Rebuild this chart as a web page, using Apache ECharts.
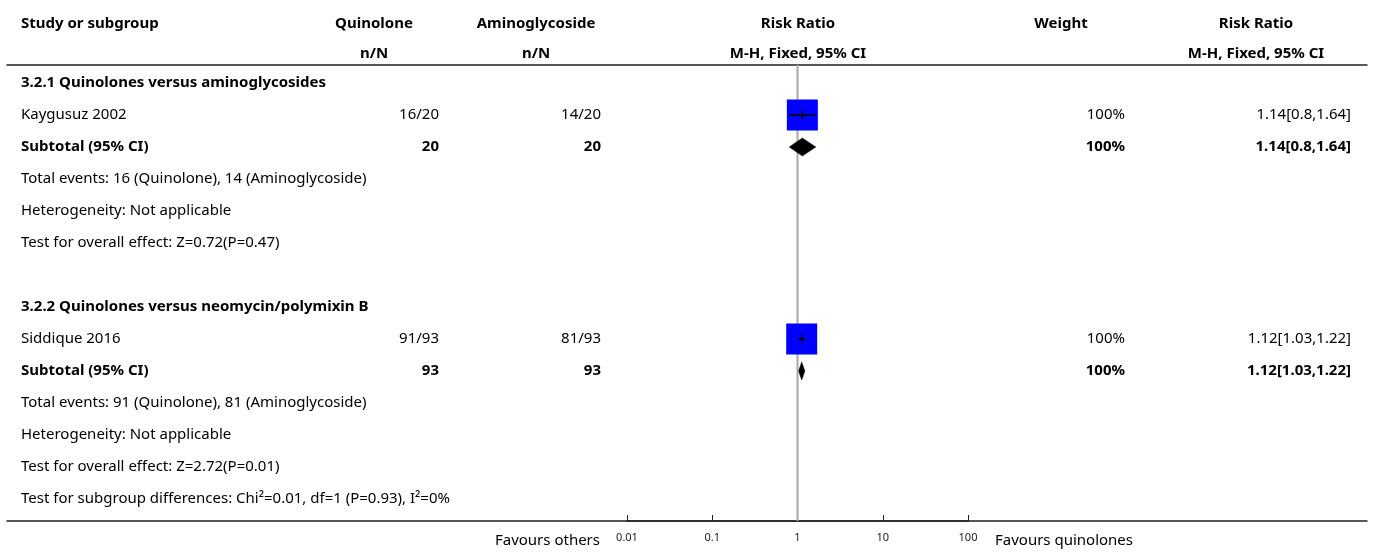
<!DOCTYPE html>
<html><head><meta charset="utf-8">
<script src="https://cdn.jsdelivr.net/npm/echarts@6/dist/echarts.min.js"></script>
<style>html,body{margin:0;padding:0;background:#fff}#c{width:1375px;height:552px}</style>
</head><body><div id="c"></div>
<script>
// ---------- data ----------
const headerTop = ['Study or subgroup', 'Quinolone', 'Aminoglycoside', 'Risk Ratio', 'Weight', 'Risk Ratio'];
const headerSub = ['', 'n/N', 'n/N', 'M-H, Fixed, 95% CI', '', 'M-H, Fixed, 95% CI'];
const rowLabels = [
  '3.2.1 Quinolones versus aminoglycosides',
  'Kaygusuz 2002',
  'Subtotal (95% CI)',
  'Total events: 16 (Quinolone), 14 (Aminoglycoside)',
  'Heterogeneity: Not applicable',
  'Test for overall effect: Z=0.72(P=0.47)',
  '',
  '3.2.2 Quinolones versus neomycin/polymixin B',
  'Siddique 2016',
  'Subtotal (95% CI)',
  'Total events: 91 (Quinolone), 81 (Aminoglycoside)',
  'Heterogeneity: Not applicable',
  'Test for overall effect: Z=2.72(P=0.01)',
  'Test for subgroup differences: Chi\u00b2=0.01, df=1 (P=0.93), I\u00b2=0%'
];
const rowKinds = ['group', 'study', 'subtotal', 'note', 'note', 'note', 'blank',
                  'group', 'study', 'subtotal', 'note', 'note', 'note', 'note'];
const quinolone      = ['', '16/20', '20', '', '', '', '', '', '91/93', '93', '', '', '', ''];
const aminoglycoside = ['', '14/20', '20', '', '', '', '', '', '81/93', '93', '', '', '', ''];
const weightText     = ['', '100%', '100%', '', '', '', '', '', '100%', '100%', '', '', '', ''];
const rrText         = ['', '1.14[0.8,1.64]', '1.14[0.8,1.64]', '', '', '', '', '',
                        '1.12[1.03,1.22]', '1.12[1.03,1.22]', '', '', '', ''];
const rrPoint  = [null, 1.14, 1.14, null, null, null, null, null, 1.12, 1.12, null, null, null, null];
const rrLow    = [null, 0.8, 0.8, null, null, null, null, null, 1.03, 1.03, null, null, null, null];
const rrHigh   = [null, 1.64, 1.64, null, null, null, null, null, 1.22, 1.22, null, null, null, null];
const weights  = [null, 100, 100, null, null, null, null, null, 100, 100, null, null, null, null];
const tickLabels = ['0.01', '0.1', '1', '10', '100'];
const favours = ['Favours others', 'Favours quinolones'];

// ---------- layout ----------
const L = {
  top: 65, bottom: 31, plotLeft: 627, plotRight: 1375 - 968,
  tableLeft: 7, tableRight: 1375 - 1367,
  rowMin: -0.5625, rowMax: 13.6875,
  colLabel: 21, colQuin: 439, colAmino: 601, colWeight: 1125, colRR: 1351,
  headQuin: 374, headAmino: 536, headForest: 798, headWeight: 1061, headRR: 1256,
  headRow1: -1.86, headRow2: -0.92, favRow: 14.3,
  favLeftX: 600, favRightX: 995,
  boxSize: 31, diamondHalfH: 9, tickHalf: 4,
  font: '"Noto Sans"', size: 15
};

const textItems = [];
const hdrX = [L.colLabel, L.headQuin, L.headAmino, L.headForest, L.headWeight, L.headRR];
const hdrAlign = ['left', 'center', 'center', 'center', 'center', 'center'];
headerTop.forEach((t, k) => { if (t) textItems.push({x: hdrX[k], y: L.headRow1, text: t, align: hdrAlign[k], bold: true}); });
headerSub.forEach((t, k) => { if (t) textItems.push({x: hdrX[k], y: L.headRow2, text: t, align: hdrAlign[k], bold: true}); });
rowLabels.forEach((t, i) => {
  const bold = rowKinds[i] === 'group' || rowKinds[i] === 'subtotal';
  const numBold = rowKinds[i] === 'subtotal';
  if (t) textItems.push({x: L.colLabel, y: i, text: t, align: 'left', bold: bold});
  if (quinolone[i]) textItems.push({x: L.colQuin, y: i, text: quinolone[i], align: 'right', bold: numBold});
  if (aminoglycoside[i]) textItems.push({x: L.colAmino, y: i, text: aminoglycoside[i], align: 'right', bold: numBold});
  if (weightText[i]) textItems.push({x: L.colWeight, y: i, text: weightText[i], align: 'right', bold: numBold});
  if (rrText[i]) textItems.push({x: L.colRR, y: i, text: rrText[i], align: 'right', bold: numBold});
});
textItems.push({x: L.favLeftX, y: L.favRow, text: favours[0], align: 'right', bold: false});
textItems.push({x: L.favRightX, y: L.favRow, text: favours[1], align: 'left', bold: false});

const forestRows = [];
rowKinds.forEach((k, i) => { if (rrPoint[i] != null) forestRows.push(i); });

const chart = echarts.init(document.getElementById('c'), null, {renderer: 'canvas'});
const lineColor = '#222';
chart.setOption({
  animation: false,
  backgroundColor: '#fff',
  grid: [
    {left: L.plotLeft, right: L.plotRight, top: L.top, bottom: L.bottom, containLabel: false},
    {left: L.tableLeft, right: L.tableRight, top: L.top, bottom: L.bottom, containLabel: false}
  ],
  xAxis: [
    {
      gridIndex: 0, type: 'log', logBase: 10, min: 0.01, max: 100, splitNumber: 4,
      axisLine: {show: true, onZero: false, lineStyle: {color: lineColor, width: 1.5}},
      axisTick: {show: true, inside: true, length: 6, lineStyle: {color: lineColor, width: 1}},
      axisLabel: {
        show: true, margin: 11, fontSize: 11, fontFamily: 'Noto Sans', color: '#222',
        formatter: v => { const m = tickLabels.find(t => Math.abs(Math.log10(+t) - Math.log10(v)) < 1e-6); return m || ''; }
      },
      splitLine: {show: false}
    },
    {
      gridIndex: 1, type: 'value', min: 7, max: 1367, position: 'top',
      axisLine: {show: true, onZero: false, lineStyle: {color: lineColor, width: 1.5}},
      axisTick: {show: false}, axisLabel: {show: false}, splitLine: {show: false}
    },
    {
      gridIndex: 1, type: 'value', min: 7, max: 1367, position: 'bottom',
      axisLine: {show: true, onZero: false, lineStyle: {color: lineColor, width: 1.5}},
      axisTick: {show: false}, axisLabel: {show: false}, splitLine: {show: false}
    }
  ],
  yAxis: [
    {gridIndex: 0, type: 'value', inverse: true, min: L.rowMin, max: L.rowMax, show: false},
    {gridIndex: 1, type: 'value', inverse: true, min: L.rowMin, max: L.rowMax, show: false}
  ],
  series: [
    {
      // null line at RR = 1
      type: 'custom', xAxisIndex: 0, yAxisIndex: 0, z: 1, silent: true, clip: false,
      data: [[1]],
      renderItem: (params, api) => {
        const a = api.coord([api.value(0), L.rowMin]);
        const b = api.coord([api.value(0), L.rowMax]);
        return {type: 'line', shape: {x1: a[0], y1: a[1], x2: b[0], y2: b[1]},
                style: {stroke: '#a8a8a8', lineWidth: 2}};
      }
    },
    {
      // study boxes and subtotal diamonds
      type: 'custom', xAxisIndex: 0, yAxisIndex: 0, z: 3, silent: true, clip: false,
      data: forestRows.map(i => [rrPoint[i], i, rrLow[i], rrHigh[i], weights[i]]),
      renderItem: (params, api) => {
        const row = forestRows[params.dataIndex];
        const y = api.value(1);
        const p = api.coord([api.value(0), y]);
        const lo = api.coord([api.value(2), y]);
        const hi = api.coord([api.value(3), y]);
        if (rowKinds[row] === 'study') {
          const s = L.boxSize * Math.sqrt(api.value(4) / 100);
          return {type: 'group', children: [
            {type: 'rect', shape: {x: p[0] - s / 2, y: p[1] - s / 2, width: s, height: s}, style: {fill: '#0000ff'}},
            {type: 'line', shape: {x1: lo[0], y1: p[1], x2: hi[0], y2: p[1]}, style: {stroke: '#000', lineWidth: 1.5}},
            {type: 'line', shape: {x1: p[0], y1: p[1] - L.tickHalf, x2: p[0], y2: p[1] + L.tickHalf}, style: {stroke: '#000', lineWidth: 1.5}}
          ]};
        }
        const h = L.diamondHalfH;
        return {type: 'polygon', shape: {points: [[lo[0], p[1]], [p[0], p[1] - h], [hi[0], p[1]], [p[0], p[1] + h]]},
                style: {fill: '#000', stroke: '#000', lineWidth: 0.5}};
      }
    },
    {
      // table text
      type: 'custom', xAxisIndex: 1, yAxisIndex: 1, z: 4, silent: true, clip: false,
      data: textItems.map(it => [it.x, it.y]),
      renderItem: (params, api) => {
        const it = textItems[params.dataIndex];
        const p = api.coord([api.value(0), api.value(1)]);
        return {type: 'text', x: p[0], y: p[1], style: {
          text: it.text, align: it.align, verticalAlign: 'middle',
          textAlign: it.align, textVerticalAlign: 'middle',
          font: (it.bold ? 'bold ' : '') + L.size + 'px ' + L.font, fill: '#000'
        }};
      }
    }
  ]
});
</script>
</body></html>
